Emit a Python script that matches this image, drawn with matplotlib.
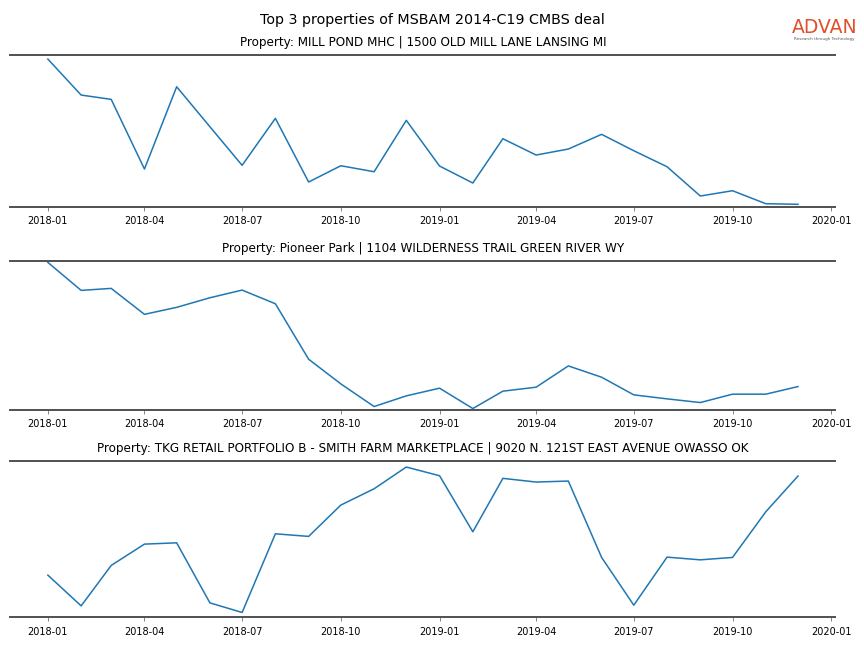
import pandas as pd
import matplotlib
matplotlib.use("Agg")
import matplotlib.pyplot as plt
import matplotlib.dates as mdates

months = pd.date_range("2018-01-01", "2019-12-01", freq="MS")

titles = [
    "Property: MILL POND MHC | 1500 OLD MILL LANE LANSING MI",
    "Property: Pioneer Park | 1104 WILDERNESS TRAIL GREEN RIVER WY",
    "Property: TKG RETAIL PORTFOLIO B - SMITH FARM MARKETPLACE | 9020 N. 121ST EAST AVENUE OWASSO OK",
]

visits_mill_pond = [1477, 1117, 1074, 377, 1200, 800, 414, 884, 247, 410, 350, 864,
                    407, 237, 680, 517, 577, 724, 560, 400, 107, 160, 30, 24]
visits_pioneer = [1474, 1194, 1214, 954, 1024, 1120, 1197, 1060, 504, 257, 30, 137,
                  214, 10, 184, 224, 437, 324, 147, 107, 70, 154, 154, 230]
visits_tkg = [417, 110, 514, 727, 740, 140, 44, 830, 804, 1117, 1280, 1497,
              1410, 850, 1384, 1347, 1357, 594, 117, 597, 570, 594, 1050, 1407]

series = [visits_mill_pond, visits_pioneer, visits_tkg]
y_limits = [(0, 1517), (0, 1487), (0, 1560)]

fig = plt.figure(figsize=(8.64, 6.48), dpi=100)
fig.suptitle("Top 3 properties of MSBAM 2014-C19 CMBS deal", fontsize=10.3, y=0.98)

# axes boxes: left, bottom, width, height
boxes = [
    [0.012, 0.681, 0.955, 0.234],
    [0.012, 0.368, 0.955, 0.229],
    [0.012, 0.048, 0.955, 0.241],
]

for box, title, values, ylim in zip(boxes, titles, series, y_limits):
    ax = fig.add_axes(box)
    ax.plot(months, values, color="#1f77b4", linewidth=1.1)
    ax.set_title(title, fontsize=8.65, pad=6.5)
    ax.margins(x=0.05)
    ax.set_ylim(*ylim)
    ax.set_yticks([])
    for side in ["left", "right"]:
        ax.spines[side].set_visible(False)
    for side in ["top", "bottom"]:
        ax.spines[side].set_color("#505050")
        ax.spines[side].set_linewidth(1.4)
    ax.xaxis.set_major_locator(mdates.MonthLocator(bymonth=[1, 4, 7, 10]))
    ax.xaxis.set_major_formatter(mdates.DateFormatter("%Y-%m"))
    ax.tick_params(axis="x", labelsize=7, length=3, width=0.6, color="#707070", pad=4)

# logo
fig.text(0.9545, 0.958, "ADVAN", color="#E0502A", fontsize=13.5,
         ha="center", va="center")
fig.text(0.9545, 0.94, "Research through Technology", color="#555555", fontsize=3,
         ha="center", va="center")

fig.savefig("out.png", dpi=100)
